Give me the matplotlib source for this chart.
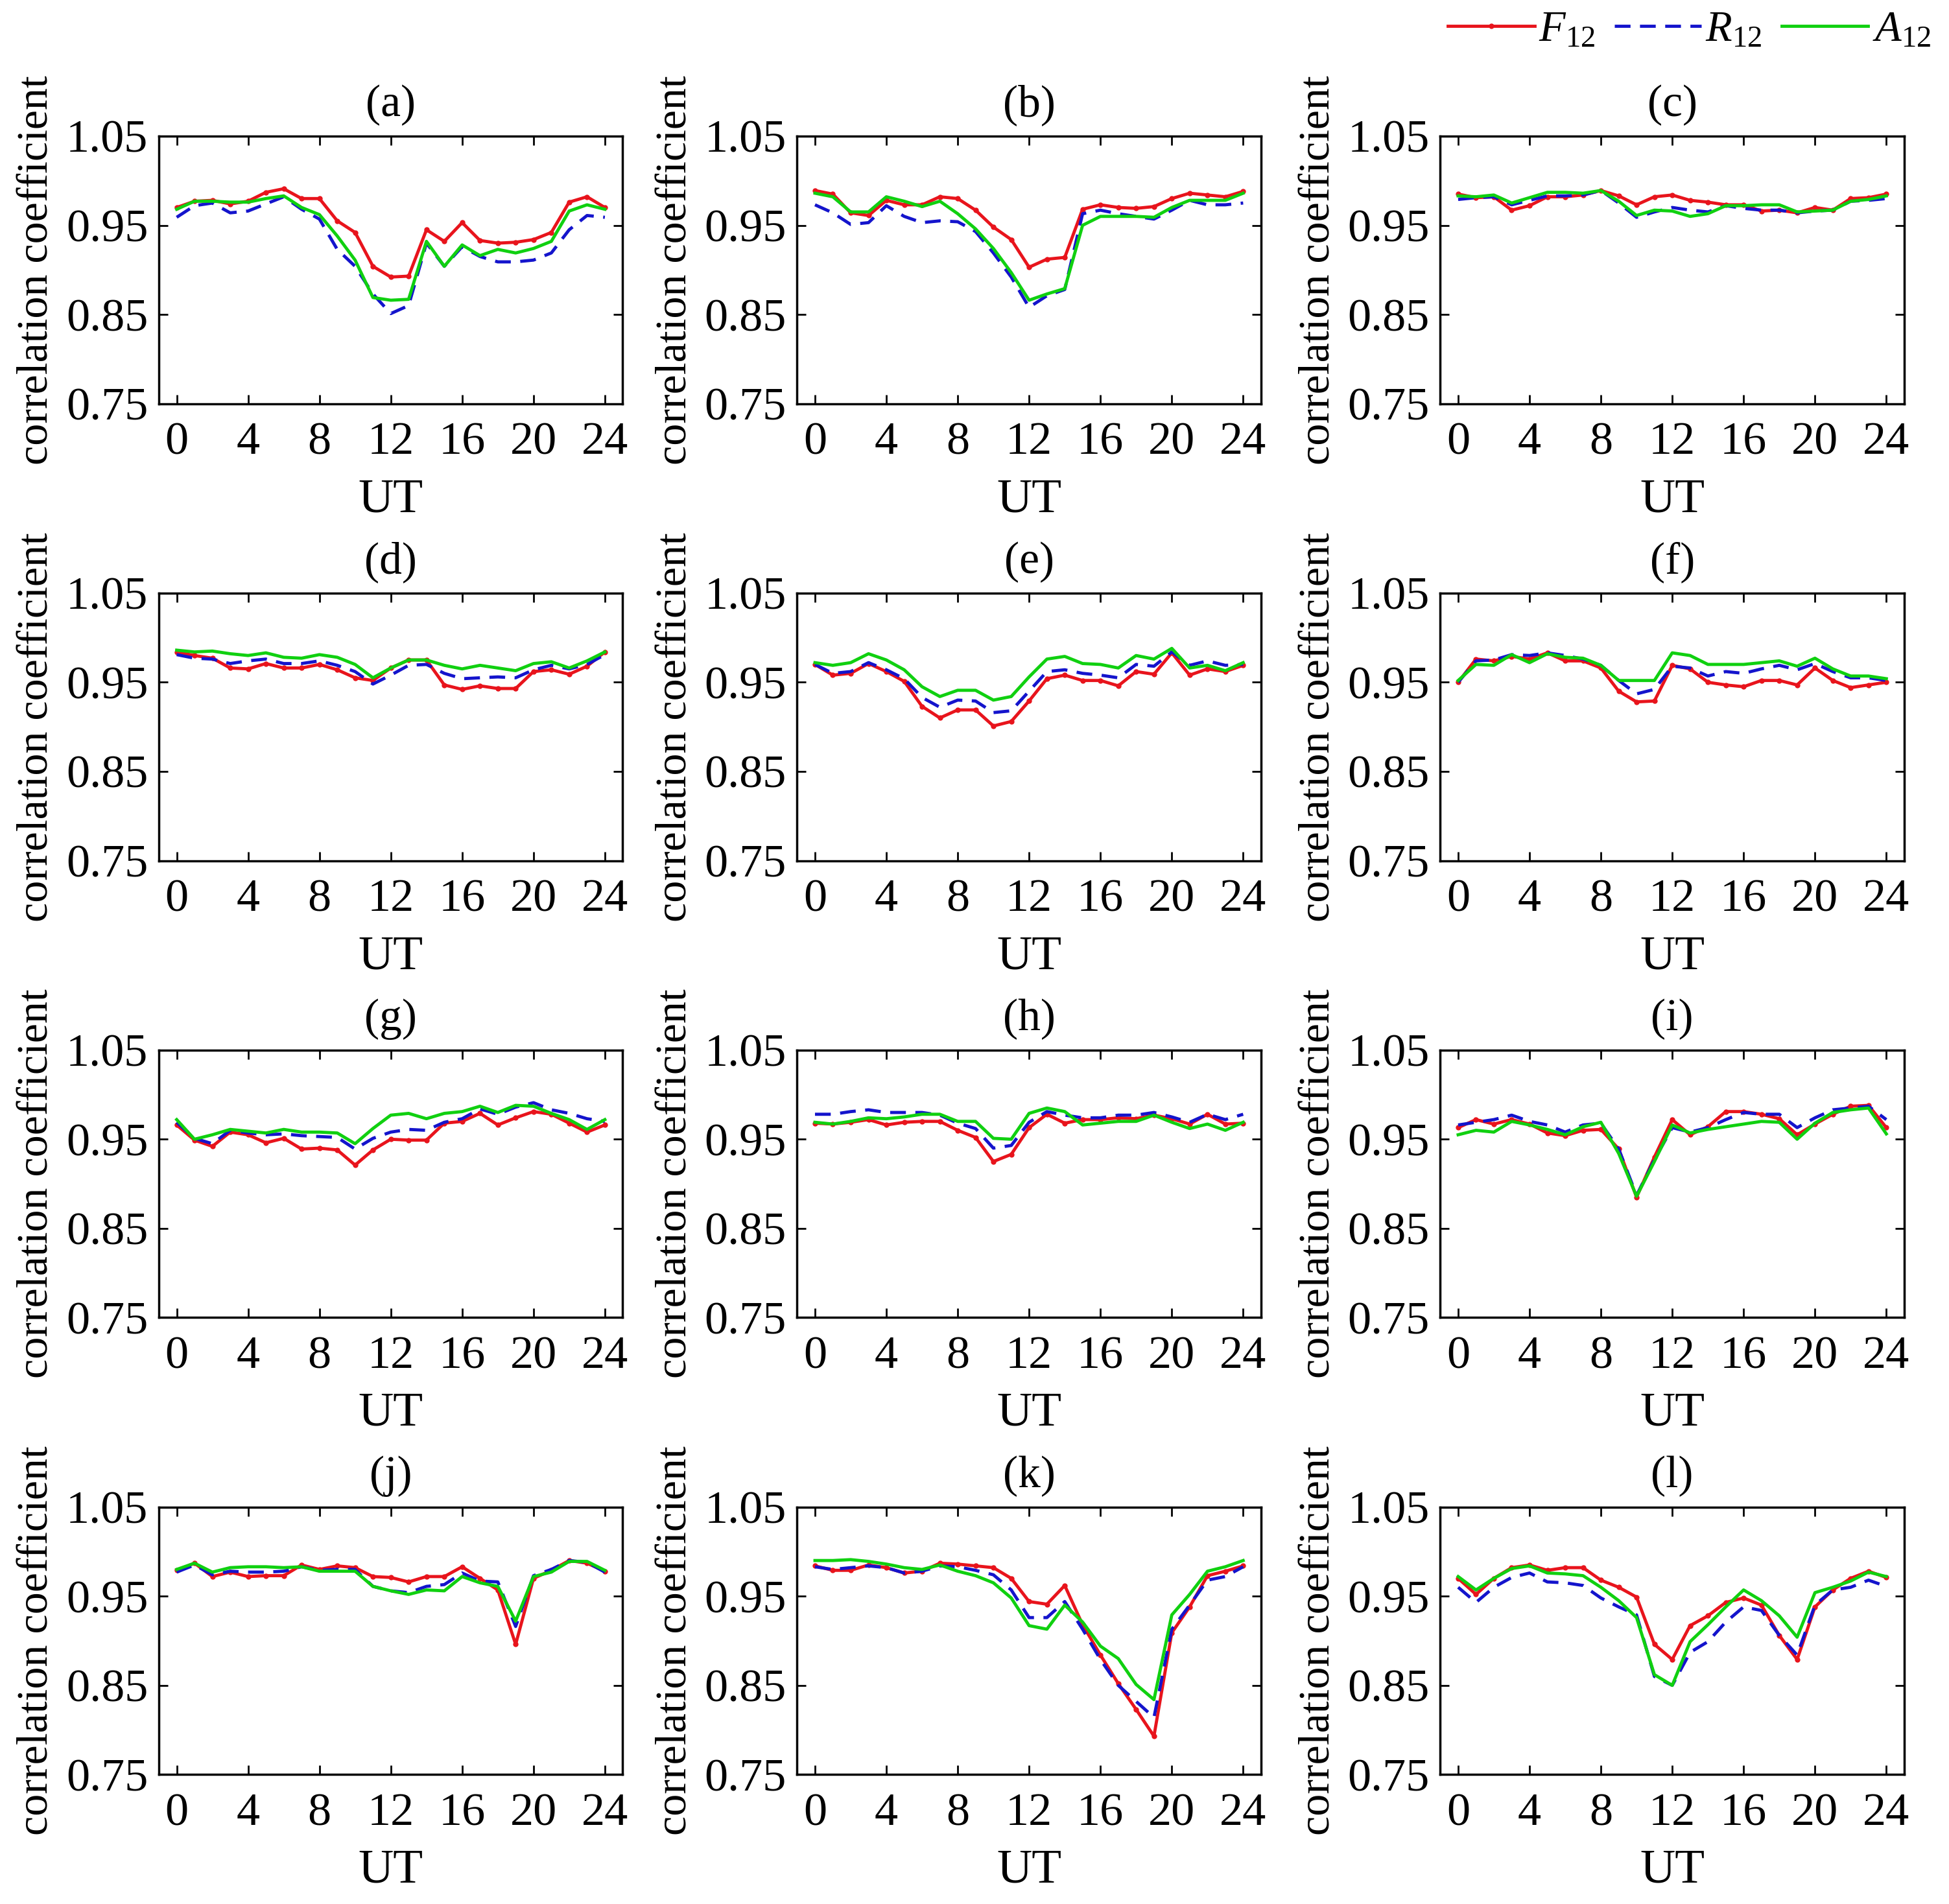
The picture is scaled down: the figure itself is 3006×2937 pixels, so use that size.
import matplotlib
matplotlib.use("Agg")
import matplotlib.pyplot as plt

plt.rcParams["font.family"] = ["Liberation Serif", "DejaVu Serif"]
plt.rcParams["mathtext.fontset"] = "custom"
plt.rcParams["mathtext.rm"] = "Liberation Serif"
plt.rcParams["mathtext.it"] = "Liberation Serif:italic"

# ---------------------------
# Data, UT hours 0..24
# ---------------------------
hours = [0, 1, 2, 3, 4, 5, 6, 7, 8, 9, 10, 11, 12, 13, 14, 15, 16, 17, 18, 19, 20, 21, 22, 23, 24]
panel_labels = ["(a)", "(b)", "(c)", "(d)", "(e)", "(f)", "(g)", "(h)", "(i)", "(j)", "(k)", "(l)"]
yticks = [0.75, 0.85, 0.95, 1.05]
xticks = [0, 4, 8, 12, 16, 20, 24]

f_a = [0.970, 0.977, 0.978, 0.974, 0.977, 0.987, 0.991, 0.980, 0.980, 0.955, 0.942, 0.904, 0.892,
       0.893, 0.945, 0.932, 0.953, 0.933, 0.930, 0.931, 0.934, 0.942, 0.976, 0.982, 0.970]
r_a = [0.959, 0.972, 0.975, 0.964, 0.966, 0.974, 0.982, 0.968, 0.957, 0.923, 0.904, 0.873, 0.851,
       0.860, 0.930, 0.904, 0.926, 0.915, 0.909, 0.909, 0.911, 0.919, 0.945, 0.961, 0.959]
a_a = [0.968, 0.977, 0.977, 0.976, 0.976, 0.980, 0.983, 0.970, 0.962, 0.938, 0.911, 0.869, 0.866,
       0.867, 0.932, 0.904, 0.928, 0.916, 0.923, 0.919, 0.924, 0.932, 0.966, 0.973, 0.968]

f_b = [0.989, 0.985, 0.964, 0.961, 0.978, 0.973, 0.973, 0.982, 0.980, 0.967, 0.948, 0.934, 0.903,
       0.912, 0.914, 0.968, 0.973, 0.970, 0.969, 0.971, 0.980, 0.986, 0.984, 0.982, 0.988]
r_b = [0.973, 0.964, 0.951, 0.953, 0.972, 0.960, 0.953, 0.955, 0.954, 0.943, 0.919, 0.892, 0.858,
       0.871, 0.878, 0.963, 0.967, 0.963, 0.960, 0.957, 0.967, 0.978, 0.973, 0.973, 0.975]
a_b = [0.986, 0.982, 0.965, 0.965, 0.982, 0.977, 0.971, 0.977, 0.963, 0.946, 0.924, 0.897, 0.866,
       0.873, 0.879, 0.950, 0.960, 0.960, 0.960, 0.959, 0.970, 0.978, 0.978, 0.978, 0.986]

f_c = [0.985, 0.981, 0.982, 0.967, 0.972, 0.982, 0.982, 0.984, 0.989, 0.983, 0.973, 0.982, 0.984,
       0.978, 0.976, 0.973, 0.973, 0.966, 0.967, 0.964, 0.970, 0.967, 0.980, 0.981, 0.985]
r_c = [0.979, 0.981, 0.982, 0.973, 0.978, 0.983, 0.983, 0.984, 0.989, 0.975, 0.959, 0.965, 0.970,
       0.967, 0.965, 0.972, 0.969, 0.967, 0.967, 0.964, 0.966, 0.967, 0.977, 0.978, 0.980]
a_c = [0.983, 0.982, 0.984, 0.975, 0.981, 0.987, 0.987, 0.986, 0.989, 0.977, 0.961, 0.967, 0.966,
       0.960, 0.963, 0.972, 0.972, 0.973, 0.973, 0.965, 0.966, 0.967, 0.977, 0.979, 0.983]

f_d = [0.984, 0.980, 0.977, 0.966, 0.965, 0.971, 0.966, 0.966, 0.970, 0.964, 0.955, 0.952, 0.966,
       0.975, 0.975, 0.947, 0.942, 0.946, 0.943, 0.943, 0.962, 0.964, 0.959, 0.968, 0.984]
r_d = [0.981, 0.977, 0.976, 0.971, 0.974, 0.976, 0.971, 0.971, 0.974, 0.969, 0.962, 0.948, 0.958,
       0.969, 0.970, 0.960, 0.954, 0.955, 0.956, 0.955, 0.964, 0.969, 0.965, 0.970, 0.981]
a_d = [0.986, 0.984, 0.985, 0.982, 0.980, 0.983, 0.978, 0.977, 0.981, 0.978, 0.970, 0.955, 0.966,
       0.975, 0.975, 0.969, 0.965, 0.969, 0.966, 0.963, 0.971, 0.973, 0.966, 0.974, 0.984]

f_e = [0.970, 0.958, 0.960, 0.971, 0.962, 0.951, 0.923, 0.910, 0.919, 0.919, 0.901, 0.906, 0.929,
       0.954, 0.958, 0.952, 0.952, 0.946, 0.962, 0.959, 0.983, 0.958, 0.965, 0.962, 0.969]
r_e = [0.970, 0.960, 0.962, 0.972, 0.964, 0.954, 0.933, 0.922, 0.930, 0.929, 0.916, 0.918, 0.940,
       0.962, 0.964, 0.960, 0.958, 0.955, 0.970, 0.968, 0.984, 0.969, 0.974, 0.969, 0.970]
a_e = [0.972, 0.969, 0.972, 0.982, 0.975, 0.964, 0.945, 0.934, 0.941, 0.941, 0.930, 0.934, 0.956,
       0.976, 0.979, 0.971, 0.970, 0.966, 0.980, 0.976, 0.988, 0.966, 0.969, 0.963, 0.972]

f_f = [0.950, 0.976, 0.974, 0.979, 0.976, 0.983, 0.974, 0.974, 0.966, 0.940, 0.928, 0.929, 0.969,
       0.965, 0.950, 0.947, 0.945, 0.952, 0.952, 0.947, 0.966, 0.952, 0.944, 0.947, 0.950]
r_f = [0.950, 0.974, 0.975, 0.981, 0.980, 0.983, 0.980, 0.976, 0.969, 0.952, 0.937, 0.942, 0.968,
       0.966, 0.957, 0.962, 0.960, 0.965, 0.969, 0.964, 0.971, 0.962, 0.955, 0.955, 0.952]
a_f = [0.952, 0.970, 0.969, 0.981, 0.972, 0.982, 0.978, 0.977, 0.969, 0.952, 0.952, 0.952, 0.983,
       0.980, 0.970, 0.970, 0.970, 0.972, 0.974, 0.968, 0.977, 0.965, 0.957, 0.957, 0.954]

f_g = [0.966, 0.949, 0.942, 0.958, 0.955, 0.946, 0.951, 0.939, 0.940, 0.938, 0.921, 0.938, 0.950,
       0.949, 0.949, 0.968, 0.970, 0.979, 0.966, 0.974, 0.981, 0.978, 0.968, 0.958, 0.966]
r_g = [0.969, 0.951, 0.945, 0.960, 0.957, 0.955, 0.956, 0.954, 0.953, 0.952, 0.939, 0.951, 0.958,
       0.961, 0.960, 0.969, 0.973, 0.984, 0.978, 0.986, 0.991, 0.983, 0.979, 0.973, 0.970]
a_g = [0.972, 0.950, 0.955, 0.961, 0.959, 0.957, 0.961, 0.958, 0.958, 0.957, 0.945, 0.962, 0.977,
       0.979, 0.973, 0.979, 0.981, 0.987, 0.980, 0.988, 0.987, 0.979, 0.972, 0.961, 0.972]

f_h = [0.968, 0.967, 0.969, 0.972, 0.966, 0.969, 0.970, 0.970, 0.960, 0.952, 0.925, 0.933, 0.963,
       0.978, 0.968, 0.972, 0.972, 0.974, 0.973, 0.977, 0.973, 0.967, 0.978, 0.967, 0.968]
r_h = [0.978, 0.978, 0.981, 0.983, 0.980, 0.980, 0.980, 0.977, 0.968, 0.962, 0.940, 0.943, 0.969,
       0.981, 0.977, 0.974, 0.974, 0.977, 0.977, 0.980, 0.975, 0.969, 0.978, 0.972, 0.978]
a_h = [0.969, 0.967, 0.970, 0.974, 0.973, 0.975, 0.978, 0.978, 0.970, 0.970, 0.951, 0.950, 0.979,
       0.985, 0.981, 0.966, 0.968, 0.970, 0.970, 0.977, 0.969, 0.962, 0.967, 0.960, 0.969]

f_i = [0.963, 0.972, 0.967, 0.972, 0.967, 0.957, 0.954, 0.960, 0.961, 0.939, 0.885, 0.930, 0.972,
       0.955, 0.964, 0.981, 0.981, 0.978, 0.973, 0.955, 0.967, 0.978, 0.987, 0.988, 0.963]
r_i = [0.966, 0.969, 0.972, 0.977, 0.970, 0.966, 0.958, 0.966, 0.968, 0.939, 0.887, 0.927, 0.963,
       0.958, 0.963, 0.972, 0.980, 0.978, 0.978, 0.963, 0.974, 0.983, 0.985, 0.987, 0.972]
a_i = [0.955, 0.960, 0.958, 0.970, 0.966, 0.961, 0.955, 0.964, 0.969, 0.934, 0.886, 0.925, 0.966,
       0.957, 0.961, 0.964, 0.967, 0.970, 0.969, 0.950, 0.968, 0.980, 0.983, 0.985, 0.956]

f_j = [0.979, 0.987, 0.972, 0.977, 0.972, 0.973, 0.973, 0.985, 0.980, 0.984, 0.982, 0.972, 0.971,
       0.966, 0.972, 0.972, 0.983, 0.970, 0.957, 0.896, 0.970, 0.979, 0.990, 0.987, 0.978]
r_j = [0.977, 0.985, 0.974, 0.978, 0.977, 0.977, 0.978, 0.983, 0.979, 0.980, 0.980, 0.961, 0.956,
       0.954, 0.961, 0.963, 0.976, 0.967, 0.966, 0.916, 0.973, 0.980, 0.990, 0.988, 0.977]
a_j = [0.980, 0.987, 0.977, 0.982, 0.983, 0.983, 0.982, 0.983, 0.978, 0.978, 0.978, 0.961, 0.956,
       0.952, 0.957, 0.956, 0.972, 0.965, 0.961, 0.922, 0.972, 0.977, 0.989, 0.989, 0.979]

f_k = [0.984, 0.979, 0.979, 0.985, 0.982, 0.976, 0.978, 0.987, 0.986, 0.984, 0.982, 0.970, 0.944,
       0.941, 0.962, 0.918, 0.884, 0.852, 0.823, 0.793, 0.909, 0.938, 0.973, 0.978, 0.984]
r_k = [0.983, 0.980, 0.982, 0.984, 0.982, 0.976, 0.978, 0.984, 0.983, 0.979, 0.974, 0.957, 0.926,
       0.926, 0.944, 0.913, 0.879, 0.850, 0.832, 0.814, 0.913, 0.940, 0.968, 0.972, 0.983]
a_k = [0.990, 0.990, 0.991, 0.989, 0.986, 0.982, 0.980, 0.985, 0.978, 0.973, 0.965, 0.948, 0.917,
       0.913, 0.940, 0.921, 0.894, 0.880, 0.851, 0.834, 0.929, 0.952, 0.978, 0.983, 0.990]

f_l = [0.970, 0.952, 0.970, 0.982, 0.985, 0.979, 0.982, 0.982, 0.968, 0.960, 0.949, 0.896, 0.879,
       0.917, 0.928, 0.943, 0.948, 0.940, 0.906, 0.879, 0.938, 0.957, 0.970, 0.978, 0.971]
r_l = [0.960, 0.943, 0.960, 0.971, 0.976, 0.966, 0.965, 0.962, 0.948, 0.938, 0.929, 0.860, 0.850,
       0.887, 0.899, 0.921, 0.938, 0.934, 0.906, 0.884, 0.940, 0.957, 0.960, 0.968, 0.961]
a_l = [0.972, 0.957, 0.970, 0.981, 0.984, 0.976, 0.975, 0.973, 0.960, 0.945, 0.926, 0.862, 0.850,
       0.899, 0.918, 0.938, 0.957, 0.945, 0.928, 0.904, 0.954, 0.960, 0.967, 0.977, 0.972]

panels = [(f_a, r_a, a_a), (f_b, r_b, a_b), (f_c, r_c, a_c),
          (f_d, r_d, a_d), (f_e, r_e, a_e), (f_f, r_f, a_f),
          (f_g, r_g, a_g), (f_h, r_h, a_h), (f_i, r_i, a_i),
          (f_j, r_j, a_j), (f_k, r_k, a_k), (f_l, r_l, a_l)]

# ---------------------------
# Figure layout (4 rows x 3 cols)
# ---------------------------
fig = plt.figure(figsize=(30.06, 29.37), dpi=100)

col_left = [0.0815, 0.409, 0.739]
row_bottom = [0.788, 0.548, 0.308, 0.068]
ax_w, ax_h = 0.238, 0.1405

RED = "#e8141c"
BLUE = "#1414cc"
GREEN = "#10d010"

for k, (f, r, a) in enumerate(panels):
    row, col = divmod(k, 3)
    ax = fig.add_axes([col_left[col], row_bottom[row], ax_w, ax_h])

    ax.plot(hours, f, color=RED, lw=3.5, marker="o", markersize=5, label=r"$F_{12}$")
    ax.plot(hours, r, color=BLUE, lw=3.5, ls=(0, (5, 3)), label=r"$R_{12}$")
    ax.plot(hours, a, color=GREEN, lw=3.5, label=r"$A_{12}$")

    ax.set_xlim(-1, 25)
    ax.set_ylim(0.75, 1.05)
    ax.set_xticks(xticks)
    ax.set_yticks(yticks)
    ax.set_yticklabels(["%.2f" % v for v in yticks])
    ax.tick_params(direction="in", top=True, right=True, length=10, width=2,
                   labelsize=52)
    ax.tick_params(axis="x", pad=20)
    ax.tick_params(axis="y", pad=12)
    for s in ax.spines.values():
        s.set_linewidth(2.5)

    ax.set_title(panel_labels[k], fontsize=50, pad=22)
    ax.set_xlabel("UT", fontsize=54, labelpad=16)
    ax.set_ylabel("correlation coefficient", fontsize=49, labelpad=10)

handles, labels = fig.axes[0].get_legend_handles_labels()
fig.legend(handles, labels, loc="upper right", bbox_to_anchor=(1.004, 1.008), ncol=3,
           frameon=False, fontsize=48, handlelength=2.0, handletextpad=0.1,
           columnspacing=0.45, borderaxespad=0.2)

plt.savefig("out.png", dpi=100)
